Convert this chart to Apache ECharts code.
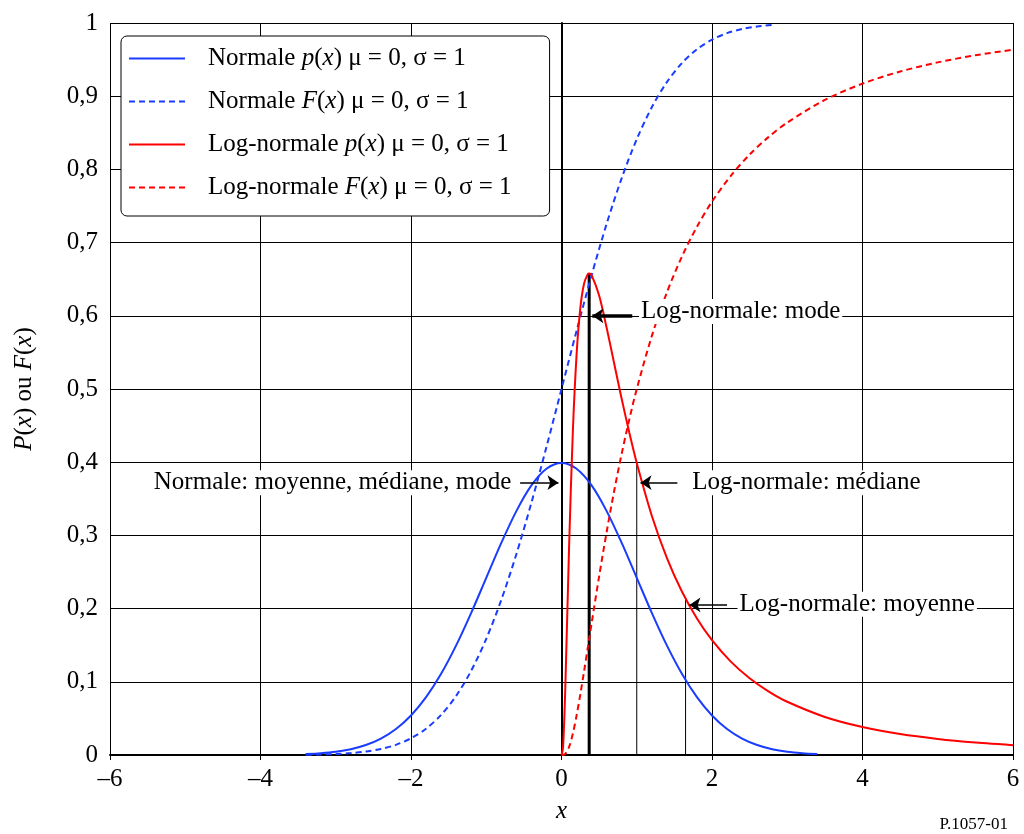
<!DOCTYPE html>
<html>
<head>
<meta charset="utf-8">
<script src="https://cdn.jsdelivr.net/npm/echarts@6/dist/echarts.min.js"></script>
<style>html,body{margin:0;padding:0;background:#fff}#c{width:1024px;height:834px}</style>
</head>
<body>
<div id="c"></div>
<script>
// ---- data ----
var normX = [-3.4,-3.2,-3.0,-2.8,-2.6,-2.4,-2.2,-2.0,-1.8,-1.6,-1.4,-1.2,-1.0,-0.8,-0.6,-0.4,-0.2,0,
             0.2,0.4,0.6,0.8,1.0,1.2,1.4,1.6,1.8,2.0,2.2,2.4,2.6,2.8,3.0,3.2,3.4];
var normPdf = [0.0012,0.0024,0.0044,0.0079,0.0136,0.0224,0.0355,0.0540,0.0790,0.1109,0.1497,0.1942,0.2420,0.2897,0.3332,0.3683,0.3910,0.3989,
               0.3910,0.3683,0.3332,0.2897,0.2420,0.1942,0.1497,0.1109,0.0790,0.0540,0.0355,0.0224,0.0136,0.0079,0.0044,0.0024,0.0012];
var normCdf = [0.0003,0.0007,0.0013,0.0026,0.0047,0.0082,0.0139,0.0228,0.0359,0.0548,0.0808,0.1151,0.1587,0.2119,0.2743,0.3446,0.4207,0.5000,
               0.5793,0.6554,0.7257,0.7881,0.8413,0.8849,0.9192,0.9452,0.9641,0.9772,0.9861,0.9918,0.9953,0.9974];
var logX = [0,0.02,0.05,0.1,0.15,0.2,0.25,0.3,0.35,0.3679,0.4,0.5,0.6,0.7,0.8,0.9,1.0,1.2,1.4,1.6,1.8,2.0,2.25,2.5,2.75,3.0,3.5,4.0,4.5,5.0,5.5,6.0];
var logPdf = [0,0.0095,0.0898,0.2816,0.4399,0.5463,0.6105,0.6442,0.6569,0.6577,0.6555,0.6276,0.5836,0.5349,0.4864,0.4408,0.3989,0.3269,0.2693,0.2233,0.1865,0.1569,0.1276,0.1049,0.0870,0.0727,0.0520,0.0382,0.0286,0.0219,0.0170,0.0134];
var logCdf = [0,0.0001,0.0014,0.0107,0.0289,0.0538,0.0828,0.1143,0.1469,0.1587,0.1797,0.2441,0.3047,0.3607,0.4117,0.4580,0.5000,0.5723,0.6318,0.6808,0.7217,0.7559,0.7913,0.8203,0.8441,0.8640,0.8949,0.9172,0.9337,0.9462,0.9559,0.9634];
var seriesNames = ['Normale p(x)','Normale F(x)','Log-normale p(x)','Log-normale F(x)'];
// markers: mode, median, mean of the log-normal
var markerX = [0.3679, 1.0, 1.6487];
var markerTop = [0.6577, 0.3989, 0.2135];
// annotation texts [x, y, text, side]
var noteText = [
  [1.03, 0.606, 'Log-normale: mode', 'right'],
  [-0.64, 0.372, 'Normale: moyenne, médiane, mode', 'left'],
  [1.71, 0.372, 'Log-normale: médiane', 'right'],
  [2.34, 0.206, 'Log-normale: moyenne', 'right']
];
// arrows [fromX, fromY, toX, toY, width]
var arrows = [
  [0.94, 0.6, 0.41, 0.6, 3.5],
  [-0.55, 0.372, -0.04, 0.372, 1.5],
  [1.54, 0.372, 1.05, 0.372, 1.5],
  [2.20, 0.205, 1.70, 0.205, 1.5]
];

function zip(xs, ys){ var o=[]; for (var i=0;i<ys.length;i++) o.push([xs[i], ys[i]]); return o; }

var FONT = '"Liberation Serif","DejaVu Serif",serif';
var FS = 25;
var BLUE = '#1a3cff', RED = '#ff0000';

var chart = echarts.init(document.getElementById('c'));

var series = [
  {name: seriesNames[0], type:'line', data: zip(normX, normPdf), showSymbol:false, symbol:'none', smooth:0.3,
   lineStyle:{color:BLUE, width:2}, itemStyle:{color:BLUE}, z:5},
  {name: seriesNames[1], type:'line', data: zip(normX, normCdf), showSymbol:false, symbol:'none', smooth:0.3,
   lineStyle:{color:BLUE, width:2, type:[6,4]}, itemStyle:{color:BLUE}, z:5},
  {name: seriesNames[2], type:'line', data: zip(logX, logPdf), showSymbol:false, symbol:'none', smooth:0.3,
   lineStyle:{color:RED, width:2}, itemStyle:{color:RED}, z:5},
  {name: seriesNames[3], type:'line', data: zip(logX, logCdf), showSymbol:false, symbol:'none', smooth:0.3,
   lineStyle:{color:RED, width:2, type:[6,4]}, itemStyle:{color:RED}, z:5}
];
markerX.forEach(function(mx, i){
  series.push({type:'line', data:[[mx,0],[mx,markerTop[i]]], symbol:'none', silent:true,
    lineStyle:{color:'#000', width: i===0 ? 3 : 1}, z:4});
});
series.push({
  type:'scatter', symbolSize:0, silent:true, z:10,
  itemStyle:{opacity:1, color:'#000'},
  data: noteText.map(function(n){
    return {value:[n[0], n[1]], label:{show:true, position:n[3], distance:0, formatter:n[2],
      fontFamily:FONT, fontSize:FS, color:'#000', backgroundColor:'#fff', padding:[0,2]}};
  })
});
series.push({
  type:'lines', coordinateSystem:'cartesian2d', silent:true, z:11,
  symbol:['none','arrow'], symbolSize:11,
  lineStyle:{color:'#000', opacity:1, curveness:0},
  itemStyle:{color:'#000'},
  data: arrows.map(function(a){
    return {coords:[[a[0],a[1]],[a[2],a[3]]], lineStyle:{color:'#000', width:a[4], opacity:1}};
  })
});

chart.setOption({
  animation:false,
  backgroundColor:'#fff',
  grid:{left:110, right:11, top:23, bottom:79},
  xAxis:{
    type:'value', min:-6, max:6, interval:2,
    name:'x', nameLocation:'middle', nameGap:44,
    nameTextStyle:{fontFamily:FONT, fontSize:FS, fontStyle:'italic', color:'#000'},
    axisLine:{show:true, onZero:false, lineStyle:{color:'#000', width:2}},
    axisTick:{show:true, length:5, lineStyle:{color:'#000'}},
    axisLabel:{fontFamily:FONT, fontSize:FS, color:'#000', margin:12,
      formatter:function(v){ return v<0 ? '\u2013'+Math.abs(v) : String(v); }},
    splitLine:{show:true, lineStyle:{color:'#000', width:1}}
  },
  yAxis:{
    type:'value', min:0, max:1, interval:0.1,
    name:'{i|P}{n|(}{i|x}{n|) ou }{i|F}{n|(}{i|x}{n|)}', nameLocation:'middle', nameGap:73,
    nameTextStyle:{fontFamily:FONT, fontSize:FS, color:'#000',
      rich:{i:{fontFamily:FONT, fontSize:FS, fontStyle:'italic', color:'#000'},
            n:{fontFamily:FONT, fontSize:FS, color:'#000'}}},
    axisLine:{show:true, lineStyle:{color:'#000', width:2}},
    axisTick:{show:true, length:5, lineStyle:{color:'#000'}},
    axisLabel:{fontFamily:FONT, fontSize:FS, color:'#000', margin:12,
      formatter:function(v){ if (v===0) return '0'; if (v===1) return '1'; return v.toFixed(1).replace('.',','); }},
    splitLine:{show:true, lineStyle:{color:'#000', width:1}}
  },
  legend:{
    data: seriesNames, orient:'vertical', left:121, top:36,
    padding:[8,38,14,7], itemGap:14, itemWidth:56, itemHeight:14,
    backgroundColor:'#fff', borderColor:'#000', borderWidth:1, borderRadius:6,
    selectedMode:false,
    itemStyle:{opacity:0},
    textStyle:{fontFamily:FONT, fontSize:FS, color:'#000', lineHeight:29, padding:[0,0,0,18],
      rich:{i:{fontFamily:FONT, fontSize:FS, fontStyle:'italic', color:'#000', lineHeight:29},
            n:{fontFamily:FONT, fontSize:FS, color:'#000', lineHeight:29}}},
    formatter:function(name){
      var parts = name.split(' ');
      var fn = parts[1].charAt(0);
      return '{n|' + parts[0] + ' }{i|' + fn + '}{n|(}{i|x}{n|) \u03bc = 0, \u03c3 = 1}';
    }
  },
  graphic:[{type:'text', right:16, bottom:1,
    style:{text:'P.1057-01', font:'17px ' + FONT, fill:'#000'}}],
  series: series
});
</script>
</body>
</html>
